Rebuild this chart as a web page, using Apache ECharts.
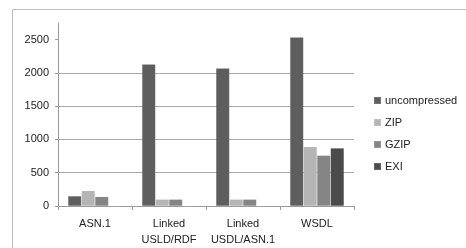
<!DOCTYPE html>
<html>
<head>
<meta charset="utf-8">
<script src="https://cdn.jsdelivr.net/npm/echarts@6/dist/echarts.min.js"></script>
<style>
  html, body { margin: 0; padding: 0; background: #fff; }
  #chart { width: 466px; height: 248px; }
</style>
</head>
<body>
<div id="chart"></div>
<script>
// formats and sizes
const categories = ['ASN.1', 'Linked\nUSLD/RDF', 'Linked\nUSDL/ASN.1', 'WSDL'];
const uncompressed = [150, 2130, 2070, 2535];
const zip = [230, 100, 100, 890];
const gzip = [140, 100, 100, 760];
const exi = [0, 0, 0, 870];
const yTicks = [0, 500, 1000, 1500, 2000, 2500];

const font = 'Liberation Sans';
const txt = '#222';

var myChart = echarts.init(document.getElementById('chart'));

function bar(name, data, color) {
  return {
    name: name,
    type: 'bar',
    data: data,
    barGap: 0,
    barCategoryGap: '27%',
    itemStyle: { color: color, borderColor: 'rgba(255,255,255,0.15)', borderWidth: 0.5 },
    emphasis: { disabled: true }
  };
}

var option = {
  animation: false,
  backgroundColor: '#fff',
  graphic: [
    // outer chart frame (right and bottom run off the picture)
    {
      type: 'rect',
      shape: { x: 12.5, y: 9.5, width: 470, height: 260 },
      style: { fill: 'none', stroke: '#bdbdbd', lineWidth: 1 },
      silent: true
    }
  ],
  legend: {
    orient: 'vertical',
    left: 368,
    top: 90,
    itemWidth: 7,
    itemHeight: 7,
    itemGap: 11,
    icon: 'rect',
    textStyle: { fontFamily: font, fontSize: 11, color: txt, padding: [0, 0, 0, -1] },
    data: ['uncompressed', 'ZIP', 'GZIP', 'EXI']
  },
  grid: { left: 58, right: 112, top: 23, bottom: 42 },
  xAxis: {
    type: 'category',
    data: categories,
    axisLine: { lineStyle: { color: '#9a9a9a', width: 1 } },
    axisTick: { show: true, length: 4, alignWithLabel: false, lineStyle: { color: '#9a9a9a' } },
    axisLabel: { fontFamily: font, fontSize: 11, color: txt, margin: 10, lineHeight: 16, interval: 0 }
  },
  yAxis: {
    type: 'value',
    min: 0,
    max: 2750,
    interval: 500,
    axisLine: { show: true, lineStyle: { color: '#9a9a9a', width: 1 } },
    axisTick: { show: true, length: 3, customValues: yTicks, lineStyle: { color: '#9a9a9a' } },
    axisLabel: {
      fontFamily: font, fontSize: 11, color: txt, margin: 9,
      customValues: yTicks,
      formatter: function (v) { return String(v); }
    },
    splitLine: { show: true, showMaxLine: false, lineStyle: { color: '#a8a8a8', width: 1 } }
  },
  series: [
    bar('uncompressed', uncompressed, '#5e5e5e'),
    bar('ZIP', zip, '#b5b5b5'),
    bar('GZIP', gzip, '#858585'),
    bar('EXI', exi, '#4b4b4b')
  ]
};

myChart.setOption(option);
</script>
</body>
</html>
